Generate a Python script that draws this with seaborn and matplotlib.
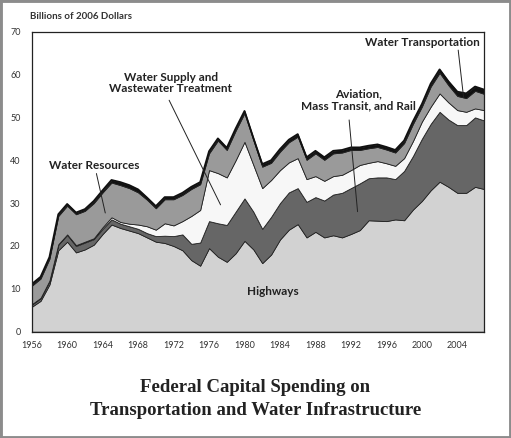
import matplotlib
matplotlib.use("Agg")
import matplotlib.pyplot as plt
import matplotlib.patches as patches
import numpy as np
import pandas as pd
import seaborn as sns

years = list(range(1956, 2008))

highways = [5.8, 7.2, 11.0, 19.0, 21.0, 18.5, 19.2, 20.3, 22.8, 25.0,
            24.2, 23.6, 23.0, 22.0, 21.0, 20.7, 20.0, 19.0, 16.7, 15.4,
            19.5, 17.5, 16.3, 18.3, 21.2, 19.2, 16.0, 18.0, 21.5, 23.8,
            25.1, 22.0, 23.3, 22.0, 22.5, 22.0, 22.8, 23.7, 26.0, 25.9,
            25.8, 26.2, 26.0, 28.5, 30.5, 33.0, 35.0, 33.8, 32.4, 32.4,
            33.8, 33.3]
aviation_transit_rail = [0.5, 0.6, 0.8, 1.3, 1.6, 1.5, 1.6, 1.3, 1.2, 1.2,
                         1.0, 1.0, 1.0, 1.0, 1.3, 1.7, 2.3, 3.7, 3.8, 5.4,
                         6.3, 7.8, 8.6, 9.7, 9.9, 8.8, 8.0, 8.8, 8.5, 8.7,
                         8.4, 8.3, 8.1, 8.6, 9.5, 10.4, 10.7, 10.9, 9.8, 10.1,
                         10.2, 9.4, 11.5, 12.5, 14.5, 15.5, 16.3, 15.7, 15.8, 15.8,
                         16.2, 16.0]
water_supply = [0.1, 0.1, 0.1, 0.1, 0.1, 0.2, 0.2, 0.2, 0.4, 0.5,
                0.4, 0.6, 1.0, 1.6, 1.5, 2.9, 2.5, 3.1, 6.5, 7.6,
                11.9, 11.7, 11.1, 12.0, 13.2, 10.9, 9.5, 8.6, 7.7, 7.0,
                7.0, 5.3, 4.9, 4.6, 4.3, 4.2, 4.2, 4.3, 3.6, 3.8,
                3.3, 3.1, 3.0, 3.5, 4.0, 4.0, 4.3, 4.0, 3.5, 3.1,
                2.1, 2.4]
water_resources = [4.3, 4.5, 5.1, 6.6, 6.7, 7.2, 7.2, 8.2, 8.1, 8.1,
                   8.6, 8.3, 7.5, 6.2, 5.0, 5.6, 6.1, 6.1, 6.3, 6.0,
                   3.9, 7.6, 6.4, 6.9, 6.7, 5.8, 5.0, 4.0, 4.3, 4.7,
                   5.0, 4.5, 5.3, 4.9, 5.3, 5.2, 4.7, 3.5, 3.4, 3.3,
                   3.2, 3.1, 3.5, 4.0, 3.5, 4.7, 4.8, 4.0, 3.3, 3.2,
                   4.1, 3.8]
water_transportation = [0.4, 0.4, 0.4, 0.4, 0.4, 0.4, 0.4, 0.5, 0.5, 0.6,
                        0.7, 0.7, 0.7, 0.5, 0.5, 0.5, 0.5, 0.5, 0.5, 0.5,
                        0.5, 0.5, 0.5, 0.5, 0.5, 0.5, 0.6, 0.6, 0.6, 0.6,
                        0.6, 0.6, 0.6, 0.6, 0.6, 0.6, 0.6, 0.6, 0.6, 0.6,
                        0.6, 0.6, 0.6, 0.6, 0.6, 0.7, 0.8, 0.9, 1.0, 1.1,
                        1.0, 1.0]

df = pd.DataFrame({
    "year": years,
    "Highways": highways,
    "Aviation": aviation_transit_rail,
    "Water Supply": water_supply,
    "Water Resources": water_resources,
    "Water Transportation": water_transportation,
})
df["total"] = df.iloc[:, 1:].sum(axis=1)

sns.set_theme(style="white")
plt.rcParams["font.family"] = ["Lato", "DejaVu Sans"]

fig = plt.figure(figsize=(5.11, 4.38), dpi=100)
ax = fig.add_axes([0.062, 0.2427, 0.885, 0.685])

colors = ["#d2d2d2", "#666666", "#f7f7f7", "#9a9a9a", "#111111"]
ax.stackplot(df["year"], df["Highways"], df["Aviation"], df["Water Supply"],
             df["Water Resources"], df["Water Transportation"],
             colors=colors, edgecolor="#222222", linewidth=0.6)
sns.lineplot(data=df, x="year", y="total", ax=ax, color="#111111", linewidth=1.3)

ax.set_xlim(1956, 2007)
ax.set_ylim(0, 70)
ax.set_xticks(range(1956, 2005, 4))
ax.set_yticks(range(0, 71, 10))
ax.set_xlabel("")
ax.set_ylabel("")
ax.tick_params(direction="in", length=4, width=0.8, color="#555555",
               labelsize=6.5, labelcolor="#333333", pad=7)
ax.tick_params(axis="y", pad=8)
for s in ax.spines.values():
    s.set_color("#222222")
    s.set_linewidth(0.9)

fig.text(0.059, 0.963, "Billions of 2006 Dollars", fontsize=7, fontweight="bold",
         color="#333333", va="center")

lab = dict(fontsize=8.5, fontweight="bold", color="#222222", ha="center",
           va="center", linespacing=1.05)
leader = dict(arrowstyle="-", color="#222222", lw=0.7, shrinkA=0, shrinkB=0)

ax.text(1963.0, 38.7, "Water Resources", **lab)
ax.annotate("", xy=(1964.3, 27.7), xytext=(1963.3, 36.9), arrowprops=leader)

ax.text(1971.7, 58.0, "Water Supply and\nWastewater Treatment", **lab)
ax.annotate("", xy=(1977.3, 29.6), xytext=(1971.5, 54.0), arrowprops=leader)

ax.text(1992.8, 54.1, "Aviation,\nMass Transit, and Rail", **lab)
ax.annotate("", xy=(1992.75, 28.0), xytext=(1991.8, 49.4), arrowprops=leader)

ax.text(2000.1, 67.4, "Water Transportation", **lab)
ax.annotate("", xy=(2004.7, 54.8), xytext=(2004.1, 65.7), arrowprops=leader)

ax.text(1983.2, 9.3, "Highways", **lab)

fig.text(0.5, 0.089, "Federal Capital Spending on\nTransportation and Water Infrastructure",
         ha="center", va="center", fontsize=13.5, fontweight="bold",
         family="Liberation Serif", color="#222222", linespacing=1.45)

fig.patches.append(patches.Rectangle((0, 0), 1, 1, transform=fig.transFigure,
                                     fill=False, edgecolor="#8c8c8c", linewidth=3.5))

fig.savefig("out.png", dpi=100)
